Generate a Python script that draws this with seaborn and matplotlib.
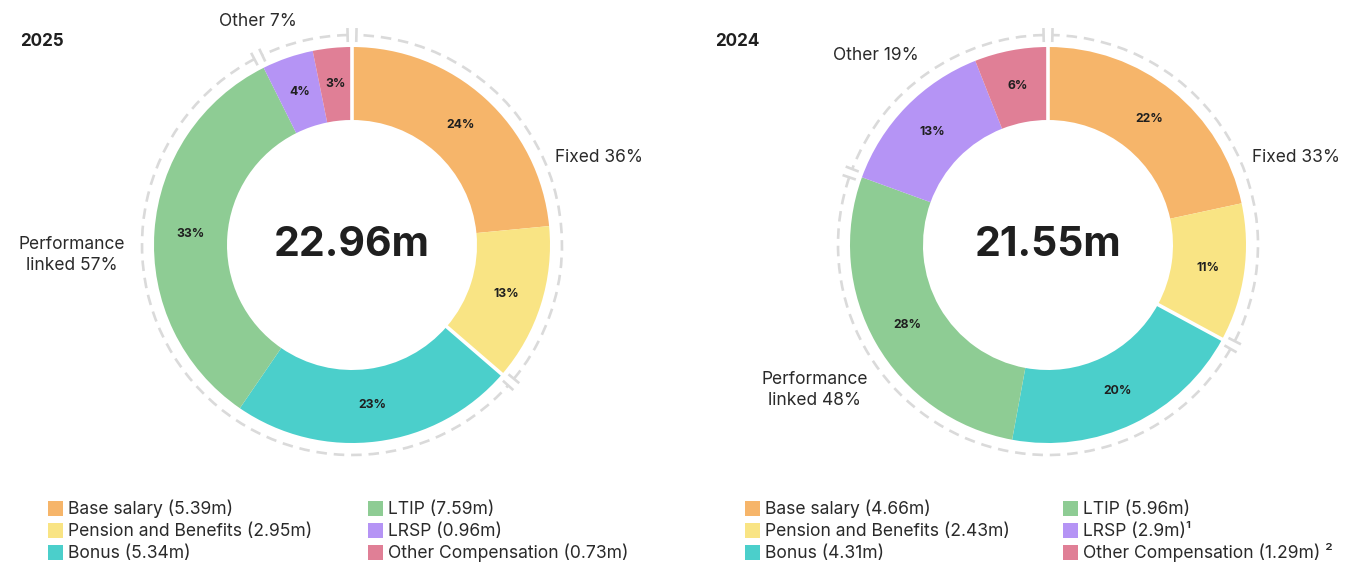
import numpy as np
import matplotlib.pyplot as plt
import seaborn as sns
from matplotlib.patches import Arc, Rectangle

# data
components = ["Base salary", "Pension and Benefits", "Bonus", "LTIP", "LRSP", "Other Compensation"]
values_2025 = [5.39, 2.95, 5.34, 7.59, 0.96, 0.73]
values_2024 = [4.66, 2.43, 4.31, 5.96, 2.90, 1.29]
pct_2025 = ["24%", "13%", "23%", "33%", "4%", "3%"]
pct_2024 = ["22%", "11%", "20%", "28%", "13%", "6%"]
notes_2024 = ["", "", "", "", "\u00b9", " \u00b2"]
years = ["2025", "2024"]
totals = ["22.96m", "21.55m"]
group_names = ["Fixed", "Performance\nlinked", "Other"]
group_sizes = [2, 2, 2]  # number of consecutive components in each group
group_pct_2025 = ["36%", "57%", "7%"]
group_pct_2024 = ["33%", "48%", "19%"]
colors = ["#F6B56A", "#F9E484", "#4BCFCB", "#8ECC94", "#B594F5", "#E07F96"]

sns.set_theme(style="white")
plt.rcParams['font.family'] = ['Inter', 'DejaVu Sans']

W, H = 1345, 565
fig = plt.figure(figsize=(W / 100, H / 100), dpi=100)
ax = fig.add_axes([0, 0, 1, 1])
pal = sns.color_palette(colors)


def fy(y):
    # pixel y from top -> data y
    return H - y


# layout per panel (pixels from top-left)
panels = [
    dict(values=values_2025, pcts=pct_2025, gpct=group_pct_2025, notes=[""] * 6,
         center=(352, 245), title_xy=(20, 42), legend_x=(48, 368),
         glabels=[(555, 158, "left"), (72, 255, "center"), (258, 22, "center")]),
    dict(values=values_2024, pcts=pct_2024, gpct=group_pct_2024, notes=notes_2024,
         center=(1048, 245), title_xy=(715, 42), legend_x=(745, 1063),
         glabels=[(1252, 158, "left"), (815, 390, "center"), (876, 55, "center")]),
]
legend_rows = [508, 530, 552]

R_OUT, RING_W, R_DASH = 198, 73, 210
dark = "#1f1f1f"

for i, p in enumerate(panels):
    cx, cy = p["center"][0], fy(p["center"][1])
    vals = np.array(p["values"])
    wedges, texts = ax.pie(vals, colors=pal, radius=R_OUT, center=(cx, cy),
                           startangle=90, counterclock=False, labels=p["pcts"],
                           labeldistance=(R_OUT - RING_W / 2) / R_OUT, frame=True,
                           wedgeprops=dict(width=RING_W, linewidth=0),
                           textprops=dict(fontsize=8.8, fontweight="bold", color=dark))
    for t in texts:
        t.set_ha("center")
        t.set_va("center")

    frac = np.concatenate([[0], np.cumsum(vals) / vals.sum()])
    bounds = np.cumsum([0] + group_sizes)

    # white gaps at top and between Fixed and Performance
    for f in (frac[0], frac[bounds[1]]):
        a = np.deg2rad(360 * f)
        rr = np.array([R_OUT - RING_W - 3, R_OUT + 3])
        ax.plot(cx + rr * np.sin(a), cy + rr * np.cos(a), color="white", lw=2.6,
                solid_capstyle="butt", zorder=3)

    # dashed group arcs with ticks
    d = 1.2
    for g in range(len(group_sizes)):
        a0 = 360 * frac[bounds[g]] + d
        a1 = 360 * frac[bounds[g + 1]] - d
        arc = Arc((cx, cy), 2 * R_DASH, 2 * R_DASH, theta1=90 - a1, theta2=90 - a0,
                  color="#DADADA", lw=1.9, linestyle=(0, (4, 2.6)), zorder=2)
        ax.add_patch(arc)
        for a in (a0, a1):
            ar = np.deg2rad(a)
            rr = np.array([R_DASH - 7, R_DASH + 7])
            ax.plot(cx + rr * np.sin(ar), cy + rr * np.cos(ar), color="#DADADA",
                    lw=1.9, solid_capstyle="butt", zorder=2)
        gx, gy, ha = p["glabels"][g]
        ax.text(gx, fy(gy), f"{group_names[g]} {p['gpct'][g]}", ha=ha, va="center",
                fontsize=12.5, color="#2a2a2a", linespacing=1.25, multialignment="center")

    # centre total and year title
    ax.text(cx, cy, totals[i], ha="center", va="center", fontsize=29.5,
            fontweight="bold", color=dark)
    ax.text(p["title_xy"][0], fy(p["title_xy"][1]), years[i], ha="left", va="center",
            fontsize=12.3, fontweight="bold", color=dark)

    # legend: two columns of three
    labels = [f"{n} ({v:g}m){s}" for n, v, s in zip(components, p["values"], p["notes"])]
    for k, lab in enumerate(labels):
        lx = p["legend_x"][k // 3]
        ly = fy(legend_rows[k % 3])
        ax.add_patch(Rectangle((lx, ly - 7.5), 15, 15, facecolor=pal[k], edgecolor="none"))
        ax.text(lx + 20, ly - 6, lab, ha="left", va="baseline", fontsize=12.6,
                color="#2a2a2a")

ax.set_xlim(0, W)
ax.set_ylim(0, H)
ax.set_aspect("equal")
ax.axis("off")

fig.savefig("out.png", dpi=100, facecolor="white")
